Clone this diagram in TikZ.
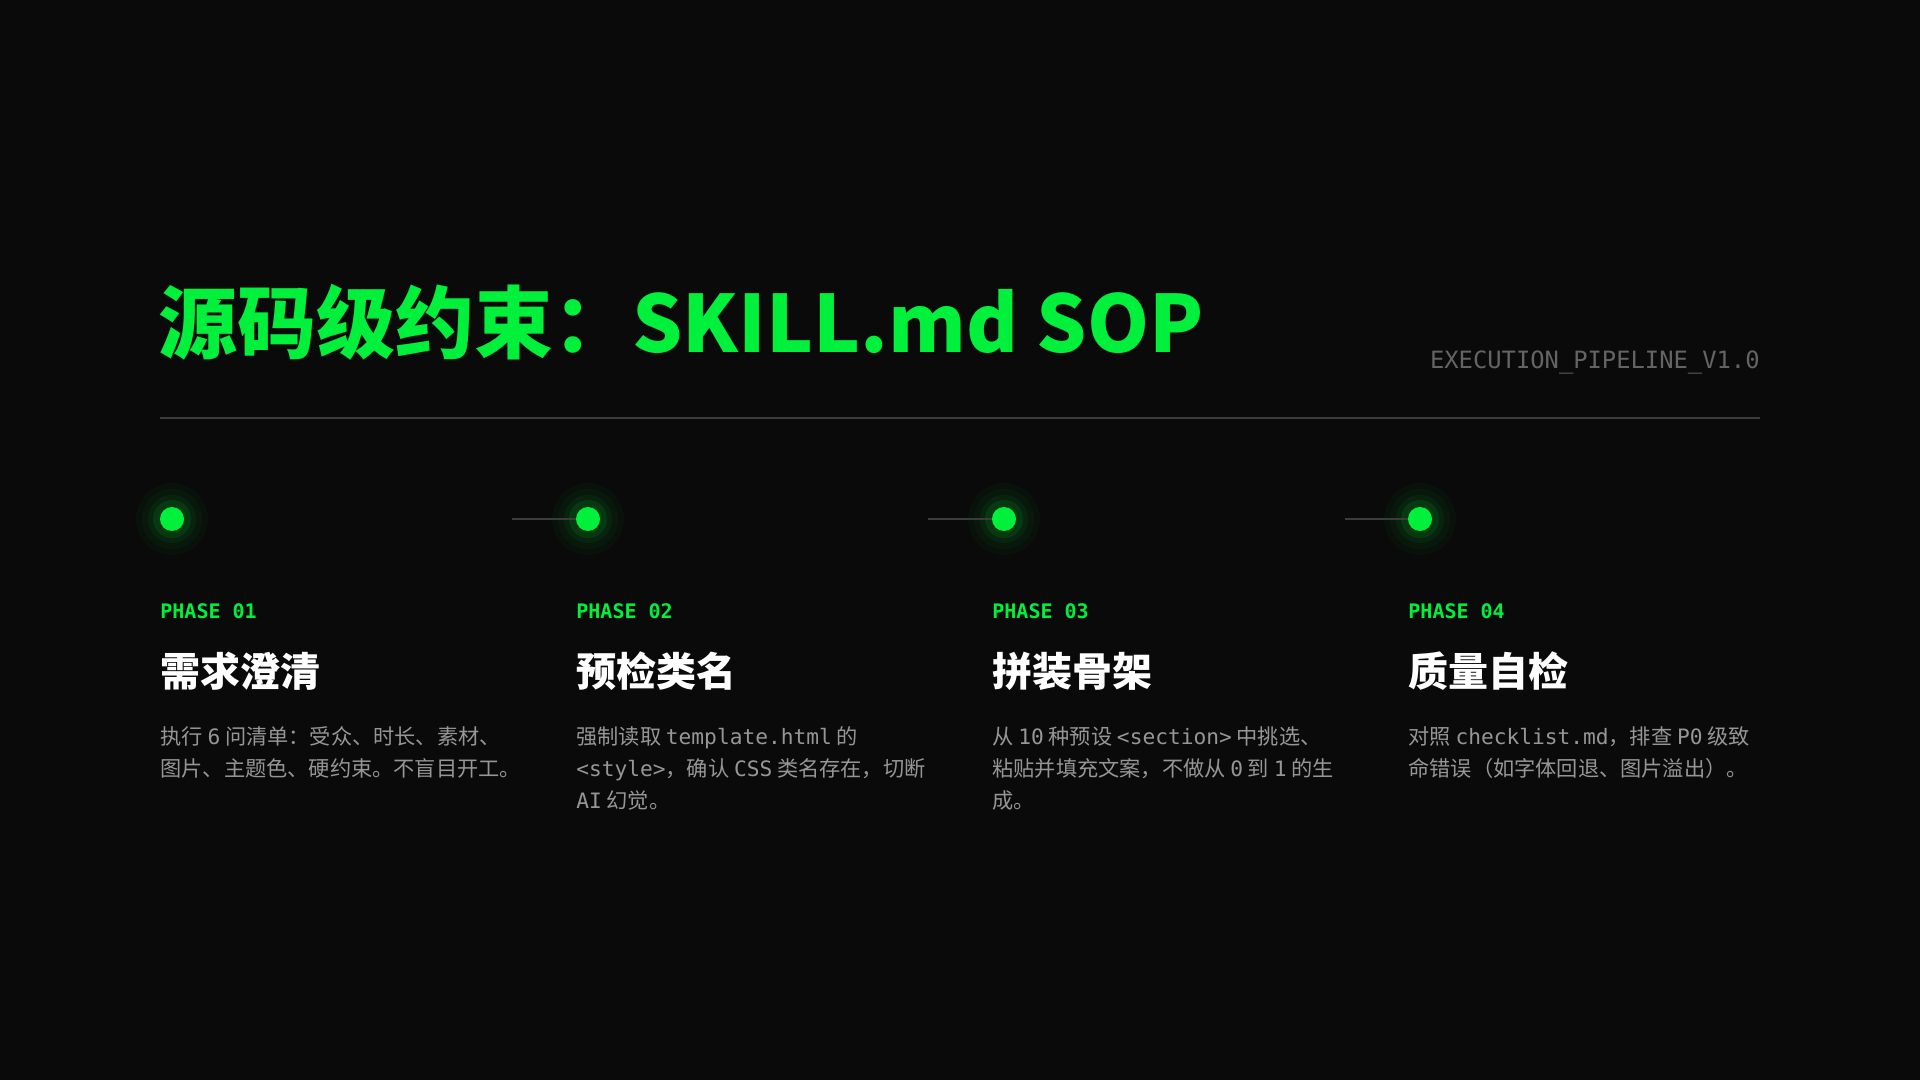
\documentclass[tikz,border=0pt]{standalone}
\usepackage{fontspec}
\setmonofont{DejaVu Sans Mono}
\newfontfamily\cjk{Noto Sans CJK SC}
\newfontfamily\cjkmono{DejaVu Sans Mono}
\definecolor{bgdark}{RGB}{10,10,10}
\definecolor{neongreen}{RGB}{0,240,60}
\definecolor{rulegray}{RGB}{60,60,60}
\definecolor{textgray}{RGB}{150,150,150}
\definecolor{taggray}{RGB}{100,100,100}
\usetikzlibrary{positioning}
\newcommand{\tm}[1]{{\cjkmono #1}}

\begin{document}
\begin{tikzpicture}[x=0.5pt,y=-0.5pt]
    \tikzstyle{dot} = [circle, fill=neongreen, minimum size=12pt, inner sep=0pt]
    \tikzstyle{glow} = [circle, fill=neongreen, inner sep=0pt]
    \tikzstyle{phasetag} = [anchor=base west, inner sep=0pt, text=neongreen, font=\cjkmono\bfseries\fontsize{10}{12}\selectfont]
    \tikzstyle{heading} = [anchor=base west, inner sep=0pt, text=white, font=\cjk\bfseries\fontsize{20}{24}\selectfont]
    \tikzstyle{body} = [anchor=north west, inner sep=0pt, text=textgray, align=left, font=\cjk\fontsize{10.6}{16}\selectfont]
    \tikzstyle{link} = [draw=rulegray, line width=0.7pt]

    \fill[bgdark] (0,0) rectangle (1920,1080);

    % Title
    \node[anchor=base west, inner sep=0pt, text=neongreen, font=\cjk\bfseries\fontsize{39.5}{46}\selectfont] (title) at (158,352) {源码级约束：SKILL.md SOP};
    \node[anchor=base east, inner sep=0pt, text=taggray, font=\cjkmono\fontsize{11.9}{14}\selectfont] (tag) at (1760,368) {EXECUTION\_PIPELINE\_V1.0};
    \coordinate (ruleL) at (160,418);
    \coordinate (ruleR) at (1760,418);
    \draw[rulegray, line width=0.8pt] (ruleL) -- (ruleR);

    % Dots with glow
    \foreach \x/\n in {172/p1, 588/p2, 1004/p3, 1420/p4} {
        \foreach \r/\o in {36/0.03, 30/0.04, 24/0.06, 19/0.10} {
            \node[glow, minimum size=\r pt, opacity=\o] at (\x,519) {};
        }
        \node[dot] (\n) at (\x,519) {};
    }

    % Connectors
    \coordinate (c2) at (512,519);
    \coordinate (c3) at (928,519);
    \coordinate (c4) at (1345,519);
    \draw[link] (c2) -- (p2);
    \draw[link] (c3) -- (p3);
    \draw[link] (c4) -- (p4);

    % Phase labels
    \node[phasetag] (t1) at (160,618) {PHASE 01};
    \node[phasetag] (t2) at (576,618) {PHASE 02};
    \node[phasetag] (t3) at (992,618) {PHASE 03};
    \node[phasetag] (t4) at (1408,618) {PHASE 04};

    % Headings
    \node[heading] (h1) at (160,686) {需求澄清};
    \node[heading] (h2) at (576,686) {预检类名};
    \node[heading] (h3) at (992,686) {拼装骨架};
    \node[heading] (h4) at (1408,686) {质量自检};

    % Descriptions
    \node[body] (b1) at (160,726) {执行 \tm{6} 问清单：受众、时长、素材、\\图片、主题色、硬约束。不盲目开工。};
    \node[body] (b2) at (576,726) {强制读取 \tm{template.html} 的\\\tm{<style>}，确认 \tm{CSS} 类名存在，切断\\\tm{AI} 幻觉。};
    \node[body] (b3) at (992,726) {从 \tm{10} 种预设 \tm{<section>} 中挑选、\\粘贴并填充文案，不做从 \tm{0} 到 \tm{1} 的生\\成。};
    \node[body] (b4) at (1408,726) {对照 \tm{checklist.md}，排查 \tm{P0} 级致\\命错误（如字体回退、图片溢出）。};
\end{tikzpicture}
\end{document}
